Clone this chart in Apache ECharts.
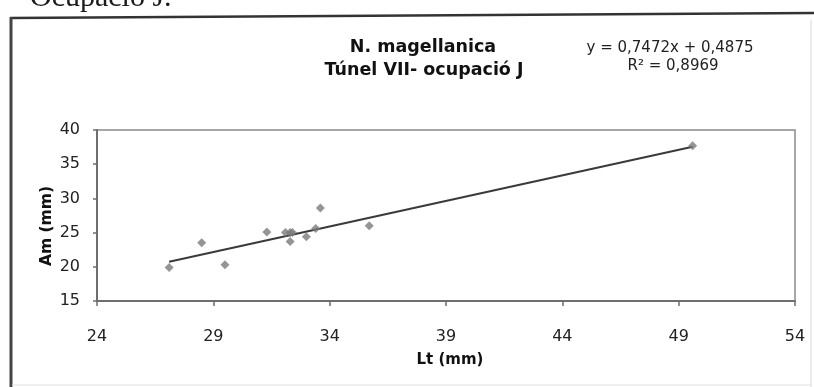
<!DOCTYPE html>
<html>
<head>
<meta charset="utf-8">
<style>
  html, body { margin: 0; padding: 0; background: #ffffff; }
  #chart { width: 814px; height: 387px; }
</style>
<script src="https://cdn.jsdelivr.net/npm/echarts@6/dist/echarts.min.js"></script>
</head>
<body>
<div id="chart"></div>
<script>
// Shell length (Lt) and width (Am), in mm
const lengthMm = [27.1, 28.5, 29.5, 31.3, 32.1, 32.3, 32.4, 32.3, 33.0, 33.4, 33.6, 35.7, 49.6];
const widthMm  = [19.9, 23.5, 20.3, 25.1, 25.0, 25.0, 25.0, 23.7, 24.4, 25.6, 28.6, 26.0, 37.7];

// Linear fit printed on the chart
const fitSlope = 0.7472;
const fitIntercept = 0.4875;
const fitR2 = 0.8969;

// Axis ticks
const xTicks = [24, 29, 34, 39, 44, 49, 54];
const yTicks = [15, 20, 25, 30, 35, 40];

const titleLines = ['N. magellanica', 'Túnel VII- ocupació J'];
const pageHeading = 'Ocupació J.';

const fmt = v => String(v).replace('.', ',');
const points = lengthMm.map((x, i) => [x, widthMm[i]]);
const xMin = Math.min(...lengthMm), xMax = Math.max(...lengthMm);
const fitLine = [xMin, xMax].map(x => [x, fitSlope * x + fitIntercept]);

const FONT = 'DejaVu Sans';
const chart = echarts.init(document.getElementById('chart'), null, { renderer: 'canvas' });

chart.setOption({
  animation: false,
  backgroundColor: '#ffffff',
  grid: {
    left: 97, right: 19, top: 130, bottom: 86,
    show: true, borderColor: '#8a8a8a', borderWidth: 1.5
  },
  xAxis: {
    type: 'value',
    min: xTicks[0], max: xTicks[xTicks.length - 1],
    axisLine: { show: true, onZero: false, lineStyle: { color: '#6e6e6e', width: 2 } },
    axisTick: { show: true, length: 5, customValues: xTicks, lineStyle: { color: '#6e6e6e', width: 1.5 } },
    axisLabel: { customValues: xTicks, margin: 28, color: '#222', fontFamily: FONT, fontSize: 16 },
    splitLine: { show: false }
  },
  yAxis: {
    type: 'value',
    min: yTicks[0], max: yTicks[yTicks.length - 1], interval: 5,
    axisLine: { show: true, onZero: false, lineStyle: { color: '#6e6e6e', width: 2 } },
    axisTick: { show: true, length: 4, lineStyle: { color: '#6e6e6e', width: 1.5 } },
    axisLabel: { margin: 17, color: '#222', fontFamily: FONT, fontSize: 16 },
    splitLine: { show: false }
  },
  series: [
    {
      type: 'line',
      data: fitLine,
      showSymbol: false,
      lineStyle: { color: '#3a3a3a', width: 2 },
      z: 2
    },
    {
      type: 'scatter',
      data: points,
      symbol: 'diamond',
      symbolSize: 9,
      itemStyle: { color: '#7a7a7a' },
      z: 3
    }
  ],
  graphic: [
    // page heading, partly cut off at the top edge
    { type: 'text', left: 30, top: -17,
      style: { text: pageHeading, font: '30px "Liberation Serif"', fill: '#1a1a1a' } },
    // chart frame
    { type: 'line', shape: { x1: 10, y1: 18, x2: 814, y2: 13 }, style: { stroke: '#333', lineWidth: 2.5 } },
    { type: 'line', shape: { x1: 11, y1: 17, x2: 11, y2: 387 }, style: { stroke: '#444', lineWidth: 3 } },
    { type: 'line', shape: { x1: 811, y1: 20, x2: 811, y2: 387 }, style: { stroke: '#d8d8d8', lineWidth: 1 } },
    { type: 'line', shape: { x1: 12, y1: 385, x2: 811, y2: 385 }, style: { stroke: '#e0e0e0', lineWidth: 1 } },
    // title
    { type: 'text', x: 423, y: 47,
      style: { text: titleLines[0], font: 'bold 17.5px "DejaVu Sans"', fill: '#111', align: 'center', verticalAlign: 'middle' } },
    { type: 'text', x: 424, y: 70,
      style: { text: titleLines[1], font: 'bold 17.5px "DejaVu Sans"', fill: '#111', align: 'center', verticalAlign: 'middle' } },
    // fit equation
    { type: 'text', x: 670, y: 48,
      style: { text: 'y = ' + fmt(fitSlope) + 'x + ' + fmt(fitIntercept), font: '15px "DejaVu Sans"', fill: '#222', align: 'center', verticalAlign: 'middle' } },
    { type: 'text', x: 673, y: 66,
      style: { text: 'R² = ' + fmt(fitR2), font: '15px "DejaVu Sans"', fill: '#222', align: 'center', verticalAlign: 'middle' } },
    // axis names
    { type: 'text', x: 450, y: 360,
      style: { text: 'Lt (mm)', font: 'bold 15px "DejaVu Sans"', fill: '#111', align: 'center', verticalAlign: 'middle' } },
    { type: 'text', x: 47, y: 226, rotation: Math.PI / 2,
      style: { text: 'Am (mm)', font: 'bold 15.5px "DejaVu Sans"', fill: '#111', align: 'center', verticalAlign: 'middle' } }
  ]
});
</script>
</body>
</html>
